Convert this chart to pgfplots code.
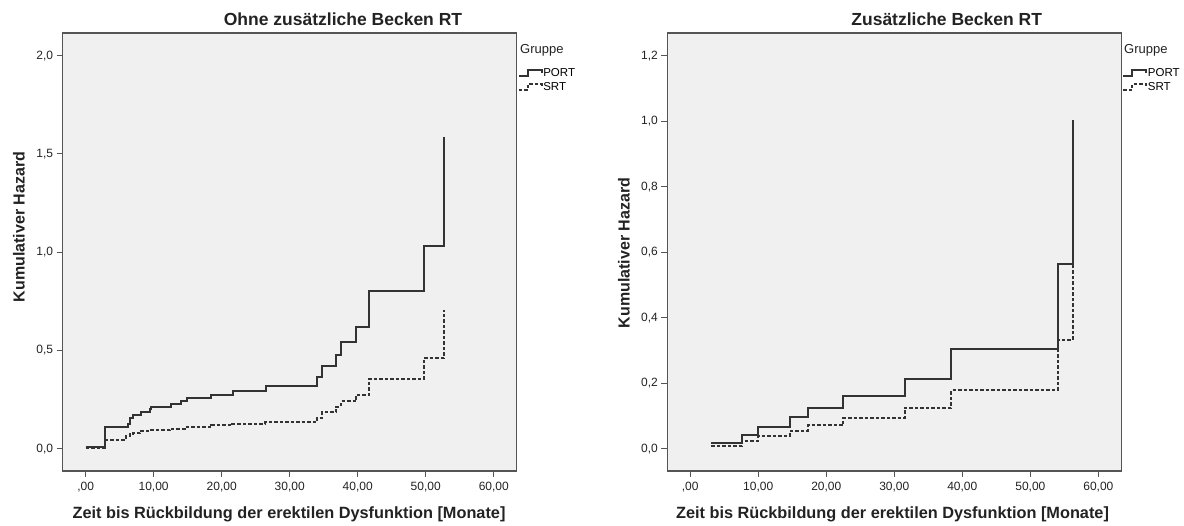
\documentclass[border=0pt]{standalone}
\usepackage{fontspec}
\setmainfont{Liberation Sans}
\usepackage{pgfplots}
\pgfplotsset{compat=1.18}

\definecolor{plotbg}{HTML}{F0F0F0}
\definecolor{frame}{HTML}{555555}
\definecolor{ink}{HTML}{222222}
\definecolor{curve}{HTML}{333333}

\pgfplotsset{
  kmaxis/.style={
    scale only axis,
    width=454pt, height=438pt,
    anchor=south west,
    axis background/.style={fill=plotbg},
    axis line style={frame, line width=1.1pt},
    xmin=-3.37, xmax=63.37,
    xtick={0,10,20,30,40,50,60},
    xticklabels={{,00},{10,00},{20,00},{30,00},{40,00},{50,00},{60,00}},
    tick align=outside, tick pos=left,
    major tick length=6pt,
    tick style={frame, line width=1pt},
    ticklabel style={font=\fontsize{12}{14}\selectfont, text=ink},
    xticklabel style={yshift=-2pt},
    legend style={draw=none, fill=none, inner sep=0pt,
      font=\fontsize{11.5}{12}\selectfont, row sep=3.5pt,
      at={(1.002,0.921)}, anchor=north west,
      nodes={inner sep=0.5pt}},
    legend cell align=left,
    legend image code/.code={
      \draw[#1] (0pt,-3pt) -- (9pt,-3pt) -- (9pt,3pt) -- (23pt,3pt) -- (23pt,0pt);
    },
  },
  port/.style={const plot mark left, curve, line width=2pt, mark=none},
  srt/.style={const plot mark left, curve, line width=2pt, mark=none,
    dash pattern=on 3.5pt off 2pt},
}

\begin{document}
\begin{tikzpicture}
\useasboundingbox (0,0) rectangle (1184pt,526pt);

% left panel: ohne zusaetzliche Becken RT
\begin{axis}[kmaxis, at={(62.7pt,55pt)},
  ymin=-0.114, ymax=2.116,
  ytick={0,0.5,1,1.5,2},
  yticklabels={{0,0},{0,5},{1,0},{1,5},{2,0}}]
\addplot[port] coordinates {
  (0,0.006) (2.9,0.11) (6.2,0.126) (6.5,0.155) (6.9,0.17) (8.1,0.188)
  (9.4,0.2) (9.6,0.214) (12.6,0.228) (14.0,0.243) (14.9,0.258)
  (18.4,0.274) (21.6,0.293) (26.5,0.32) (34.0,0.366) (34.8,0.42)
  (36.8,0.477) (37.5,0.542) (39.8,0.618) (41.7,0.8) (49.8,1.034)
  (52.7,1.586)
};
\addlegendentry{PORT}
\addplot[srt] coordinates {
  (0,0.003) (2.9,0.046) (6.0,0.063) (6.5,0.074) (7.0,0.078) (8.0,0.088)
  (9.5,0.094) (12.4,0.101) (14.6,0.11) (18.5,0.119) (21.5,0.127)
  (26.4,0.136) (34.0,0.155) (34.8,0.185) (36.8,0.214) (37.5,0.24)
  (39.8,0.275) (41.7,0.356) (49.8,0.462) (52.7,0.708)
};
\addlegendentry{SRT}
\end{axis}

% right panel: zusaetzliche Becken RT
\begin{axis}[kmaxis, at={(667.3pt,55pt)},
  ymin=-0.068, ymax=1.269,
  ytick={0,0.2,0.4,0.6,0.8,1.0,1.2},
  yticklabels={{0,0},{0,2},{0,4},{0,6},{0,8},{1,0},{1,2}}]
\addplot[port] coordinates {
  (3.1,0.018) (7.6,0.043) (10.0,0.067) (14.6,0.096) (17.3,0.124)
  (22.5,0.162) (31.5,0.213) (38.4,0.305) (54.0,0.565) (56.2,1.003)
};
\addlegendentry{PORT}
\addplot[srt] coordinates {
  (3.1,0.008) (7.6,0.023) (10.0,0.038) (14.6,0.054) (17.3,0.071)
  (22.5,0.094) (31.5,0.125) (38.4,0.178) (54.0,0.332) (56.2,0.59)
};
\addlegendentry{SRT}
\end{axis}

% titles, axis labels, legend headers
\begin{scope}[every node/.style={text=ink}]
\node[font=\fontsize{17.5}{20}\bfseries] at (343pt,507pt) {Ohne zusätzliche Becken RT};
\node[font=\fontsize{17.5}{20}\bfseries] at (946.7pt,507pt) {Zusätzliche Becken RT};
\node[font=\fontsize{16.3}{19}\bfseries] at (289pt,12pt) {Zeit bis Rückbildung der erektilen Dysfunktion [Monate]};
\node[font=\fontsize{16.3}{19}\bfseries] at (892.5pt,12pt) {Zeit bis Rückbildung der erektilen Dysfunktion [Monate]};
\node[font=\fontsize{16}{18}\bfseries, rotate=90] at (19pt,299pt) {Kumulativer Hazard};
\node[font=\fontsize{16}{18}\bfseries, rotate=90] at (624pt,273pt) {Kumulativer Hazard};
\node[font=\fontsize{13}{15}\selectfont, anchor=west, inner sep=0pt] at (520pt,476pt) {Gruppe};
\node[font=\fontsize{13}{15}\selectfont, anchor=west, inner sep=0pt] at (1124pt,476pt) {Gruppe};
\end{scope}
\end{tikzpicture}
\end{document}
